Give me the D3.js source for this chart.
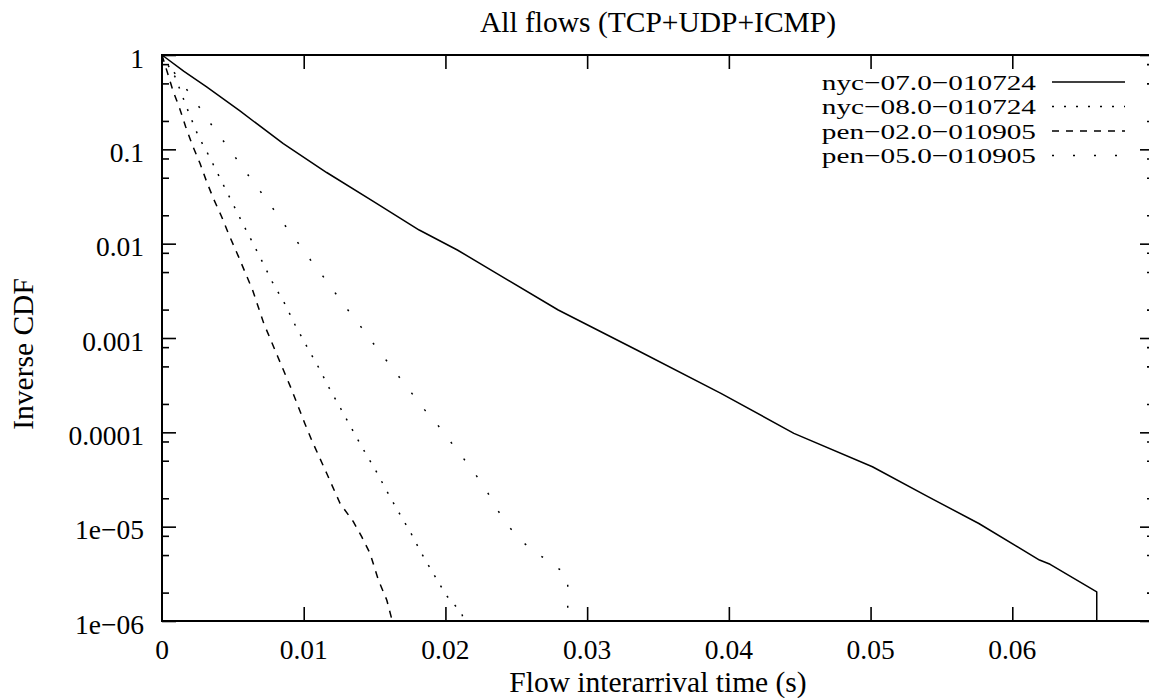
<!DOCTYPE html>
<html>
<head>
<meta charset="utf-8">
<script src="https://cdn.jsdelivr.net/npm/d3@7"></script>
<style>
  html, body { margin: 0; padding: 0; background: #fff; }
  svg { display: block; }
  text { font-family: "Liberation Serif", "Times New Roman", serif; fill: #000; }
</style>
</head>
<body>
<svg id="chart" width="1149" height="698"></svg>
<script>
// Inverse CDF of flow interarrival times, one [seconds, probability] list per trace
const nyc07 = [
  [0, 1], [0.00155, 0.67], [0.00315, 0.458], [0.0055, 0.255], [0.00856, 0.115],
  [0.01162, 0.0568], [0.01491, 0.028], [0.01815, 0.01395], [0.02084, 0.00857],
  [0.02361, 0.00485], [0.02796, 0.00198], [0.0335, 7.46e-4], [0.03944, 2.59e-4],
  [0.04459, 9.75e-5], [0.05013, 4.32e-5], [0.05408, 2.07e-5], [0.05764, 1.08e-5],
  [0.06192, 4.43e-6], [0.06267, 3.99e-6], [0.06596, 2.04e-6], [0.06596, 1e-6]
];
const nyc08 = [
  [0, 1], [0.000917, 0.589], [0.00186, 0.251], [0.00256, 0.138], [0.00332, 0.0849],
  [0.00404, 0.0513], [0.0048, 0.0303], [0.00555, 0.0181], [0.00633, 0.0107],
  [0.00708, 0.00643], [0.00778, 0.00394], [0.00865, 0.00233], [0.0094, 0.00137],
  [0.01023, 8.09e-4], [0.01102, 4.97e-4], [0.01181, 2.93e-4], [0.0126, 1.8e-4],
  [0.01344, 1.06e-4], [0.01423, 6.5e-5], [0.01506, 3.99e-5], [0.01589, 2.35e-5],
  [0.01668, 1.44e-5], [0.01751, 8.85e-6], [0.01831, 5.22e-6], [0.01913, 3.21e-6],
  [0.02004, 1.89e-6], [0.02115, 1.21e-6], [0.0213, 1e-6]
];
const pen02 = [
  [0, 1], [0.000797, 0.408], [0.00122, 0.279], [0.00167, 0.174], [0.00214, 0.111],
  [0.00268, 0.0711], [0.00315, 0.0454], [0.00362, 0.0303], [0.00421, 0.0193],
  [0.00468, 0.0129], [0.0054, 0.00728], [0.00639, 0.00323], [0.00718, 0.00143],
  [0.00817, 6.34e-4], [0.00916, 2.81e-4], [0.01007, 1.25e-4], [0.01056, 8.29e-5],
  [0.01162, 3.68e-5], [0.01256, 1.77e-5], [0.0135, 1.13e-5], [0.01409, 7.83e-6],
  [0.01468, 5.22e-6], [0.01527, 2.72e-6], [0.01586, 1.67e-6], [0.01625, 1e-6]
];
const pen05 = [
  [0, 1], [0.000988, 0.614], [0.00186, 0.408], [0.00273, 0.266], [0.00358, 0.174],
  [0.00445, 0.116], [0.00531, 0.0771], [0.00616, 0.0513], [0.00704, 0.0342],
  [0.0079, 0.0228], [0.00875, 0.0151], [0.00962, 0.0101], [0.01048, 0.00671],
  [0.01138, 0.00447], [0.01224, 0.00298], [0.01312, 0.00198], [0.01403, 0.00132],
  [0.0149, 8.79e-4], [0.01581, 5.85e-4], [0.01672, 3.89e-4], [0.01763, 2.59e-4],
  [0.01854, 1.73e-4], [0.01945, 1.2e-4], [0.02036, 7.96e-5], [0.02127, 5.31e-5],
  [0.02215, 3.53e-5], [0.02294, 2.35e-5], [0.02368, 1.5e-5], [0.02447, 1.0e-5],
  [0.0255, 6.76e-6], [0.02664, 5.01e-6], [0.02785, 3.71e-6], [0.02863, 3.07e-6],
  [0.02863, 1e-6]
];

const seriesNames = ["nyc\u221207.0\u2212010724", "nyc\u221208.0\u2212010724",
                     "pen\u221202.0\u2212010905", "pen\u221205.0\u2212010905"];
const seriesData = [nyc07, nyc08, pen02, pen05];
const seriesDash = [null, "2,10", "7,7", "2,19"];

const xTicks = [0, 0.01, 0.02, 0.03, 0.04, 0.05, 0.06];
const xTickLabels = ["0", "0.01", "0.02", "0.03", "0.04", "0.05", "0.06"];
const yTicks = [1, 0.1, 0.01, 0.001, 0.0001, 1e-5, 1e-6];
const yTickLabels = ["1", "0.1", "0.01", "0.001", "0.0001", "1e\u221205", "1e\u221206"];
const yMinorFactors = [2, 5, 8];

const chartTitle = "All flows (TCP+UDP+ICMP)";
const xTitle = "Flow interarrival time (s)";
const yTitle = "Inverse CDF";

(function draw() {
  const svg = d3.select("#chart");
  const pL = 162, pR = 1154, pT = 55, pB = 621;
  const x = d3.scaleLinear().domain([0, 0.07]).range([pL, pR]);
  const y = d3.scaleLog().domain([1e-6, 1]).range([pB, pT]);

  svg.append("rect").attr("width", 1149).attr("height", 698).attr("fill", "#fff");

  const tickSize = 14, minorSize = 7;
  const tickFont = 27.5, labelFont = 29.5;

  // tick marks: x on bottom (pointing up) and top (pointing down)
  const gxb = svg.append("g").attr("transform", `translate(0,${pB})`)
    .call(d3.axisBottom(x).tickValues(xTicks.slice(1)).tickSizeInner(-tickSize).tickSizeOuter(0).tickFormat(""));
  const gxt = svg.append("g").attr("transform", `translate(0,${pT})`)
    .call(d3.axisTop(x).tickValues(xTicks.slice(1)).tickSizeInner(-tickSize).tickSizeOuter(0).tickFormat(""));

  // y tick marks on both sides, minor ones at 2, 5, 8 per decade
  const yMinor = [];
  yTicks.slice(1).forEach(t => yMinorFactors.forEach(f => yMinor.push(t * f)));
  const gyl = svg.append("g").attr("transform", `translate(${pL},0)`)
    .call(d3.axisLeft(y).tickValues(yTicks).tickSizeInner(-tickSize).tickSizeOuter(0).tickFormat(""));
  const gylm = svg.append("g").attr("transform", `translate(${pL},0)`)
    .call(d3.axisLeft(y).tickValues(yMinor).tickSizeInner(-minorSize).tickSizeOuter(0).tickFormat(""));
  const gyr = svg.append("g").attr("transform", `translate(${pR},0)`)
    .call(d3.axisRight(y).tickValues(yTicks).tickSizeInner(-tickSize).tickSizeOuter(0).tickFormat(""));
  const gyrm = svg.append("g").attr("transform", `translate(${pR},0)`)
    .call(d3.axisRight(y).tickValues(yMinor).tickSizeInner(-minorSize).tickSizeOuter(0).tickFormat(""));

  [gxb, gxt, gyl, gylm, gyr, gyrm].forEach(g => {
    g.select(".domain").remove();
    g.selectAll(".tick line").attr("stroke", "#000").attr("stroke-width", 1.6);
  });

  // tick labels
  svg.append("g").selectAll("text").data(xTicks).join("text")
    .attr("x", d => x(d)).attr("y", pB + 37.5)
    .attr("text-anchor", "middle").attr("font-size", tickFont)
    .text((d, i) => xTickLabels[i]);
  svg.append("g").selectAll("text").data(yTicks).join("text")
    .attr("x", pL - 18).attr("y", d => y(d) + 12.5)
    .attr("text-anchor", "end").attr("font-size", tickFont)
    .text((d, i) => yTickLabels[i]);

  // plot frame
  svg.append("rect").attr("x", pL).attr("y", pT)
    .attr("width", pR - pL).attr("height", pB - pT)
    .attr("fill", "none").attr("stroke", "#000").attr("stroke-width", 2);

  // curves
  const line = d3.line().x(d => x(d[0])).y(d => y(d[1]));
  seriesData.forEach((data, i) => {
    svg.append("path").datum(data).attr("d", line)
      .attr("fill", "none").attr("stroke", "#000").attr("stroke-width", 1.5)
      .attr("stroke-linejoin", "round")
      .attr("stroke-dasharray", seriesDash[i]);
  });

  // legend: compact rows, glyphs widened to keep the row pitch tight
  const legendRowY = d3.scaleLinear().domain([0, 1]).range([82, 106.5]);
  const legendFont = 22, legendStretch = 1.33;
  seriesNames.forEach((name, i) => {
    const ry = legendRowY(i);
    svg.append("text")
      .attr("transform", `translate(1036,${ry + 7.5}) scale(${legendStretch},1)`)
      .attr("text-anchor", "end").attr("font-size", legendFont).text(name);
    svg.append("line").attr("x1", 1052).attr("x2", 1125).attr("y1", ry).attr("y2", ry)
      .attr("stroke", "#000").attr("stroke-width", 1.5)
      .attr("stroke-dasharray", seriesDash[i]);
  });

  // titles
  svg.append("text").attr("x", 658).attr("y", 32).attr("text-anchor", "middle")
    .attr("font-size", labelFont).text(chartTitle);
  svg.append("text").attr("x", 658).attr("y", 692).attr("text-anchor", "middle")
    .attr("font-size", labelFont).text(xTitle);
  svg.append("text").attr("transform", "translate(33,354) rotate(-90)")
    .attr("text-anchor", "middle").attr("font-size", labelFont).text(yTitle);
})();
</script>
</body>
</html>
